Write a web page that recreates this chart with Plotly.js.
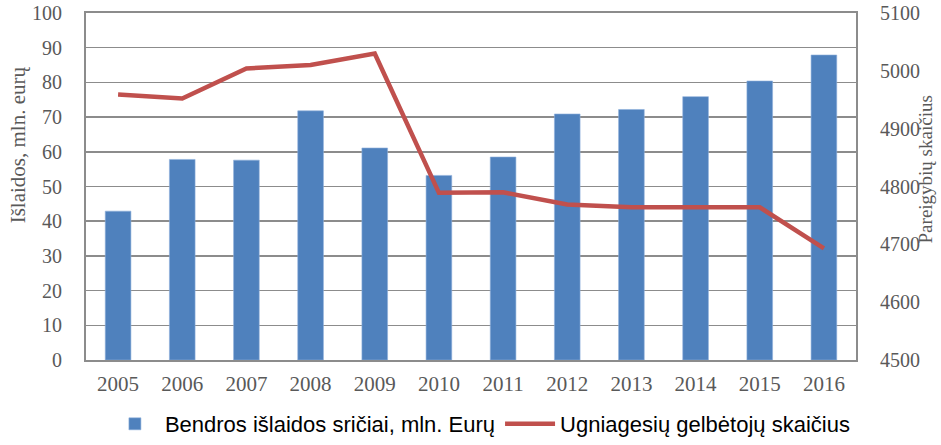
<!DOCTYPE html>
<html>
<head>
<meta charset="utf-8">
<script src="https://cdn.plot.ly/plotly-3.0.1.min.js"></script>
<style>html,body{margin:0;padding:0;background:#fff;}#chart{width:941px;height:445px;}</style>
</head>
<body>
<div id="chart"></div>
<script>
const years = ['2005','2006','2007','2008','2009','2010','2011','2012','2013','2014','2015','2016'];
const spending = [42.9, 57.8, 57.6, 71.8, 61.1, 53.2, 58.5, 70.9, 72.2, 75.9, 80.4, 87.9];
const positions = [4959, 4952, 5004, 5010, 5030, 4789, 4790, 4769, 4764, 4764, 4764, 4693];
const seriesNames = ['Bendros išlaidos sričiai, mln. Eurų', 'Ugniagesių gelbėtojų skaičius'];
const leftTitle = 'Išlaidos, mln. eurų';
const rightTitle = 'Pareigybių skaičius';

const serif = 'Liberation Serif, Times New Roman, serif';
const gray = '#595959';
const gridColor = '#8c8c8c';

const data = [
  {type:'bar', x: years, y: spending, name: seriesNames[0],
   marker:{color:'#4F81BD', line:{color:'#8fb0dc', width:0.6}}, yaxis:'y'},
  {type:'scatter', mode:'lines', x: years, y: positions, name: seriesNames[1],
   line:{color:'#C0504D', width:4.5}, yaxis:'y2'}
];

const layout = {
  width: 941, height: 445,
  margin:{l:86, r:85, t:13, b:85, autoexpand:false},
  paper_bgcolor:'#fff', plot_bgcolor:'#fff',
  bargap: 0.6,
  showlegend: true,
  legend:{orientation:'h', x:0.51, xanchor:'center', xref:'container', yref:'container', y:0.0, yanchor:'bottom',
          font:{family:'Liberation Sans, Arial, sans-serif', size:22, color:'#000'},
          itemwidth:50, traceorder:'normal'},
  xaxis:{type:'category', showgrid:false, showline:true, linecolor:gridColor, linewidth:2,
         mirror:true, ticks:'', tickfont:{family:serif, size:21, color:gray},
         ticklabelstandoff: 4},
  yaxis:{range:[0,100], dtick:10, showgrid:true, gridcolor:gridColor, gridwidth:1.5,
         showline:true, linecolor:gridColor, linewidth:2, zeroline:false, ticks:'',
         tickfont:{family:serif, size:20, color:gray}, ticklabelstandoff: 18},
  yaxis2:{range:[4500,5100], dtick:100, overlaying:'y', side:'right', showgrid:false,
          showline:true, linecolor:gridColor, linewidth:2, zeroline:false, ticks:'',
          tickfont:{family:serif, size:20, color:gray}, ticklabelstandoff: 18},
  annotations:[
    {text:leftTitle, xref:'paper', yref:'paper', x:-0.089, y:0.62, xanchor:'center', yanchor:'middle',
     textangle:-90, showarrow:false, font:{family:serif, size:21, color:gray}},
    {text:rightTitle, xref:'paper', yref:'paper', x:1.09, y:0.55, xanchor:'center', yanchor:'middle',
     textangle:-90, showarrow:false, font:{family:serif, size:19, color:gray}}
  ]
};

Plotly.newPlot('chart', data, layout, {displayModeBar:false, staticPlot:true});
</script>
</body>
</html>
